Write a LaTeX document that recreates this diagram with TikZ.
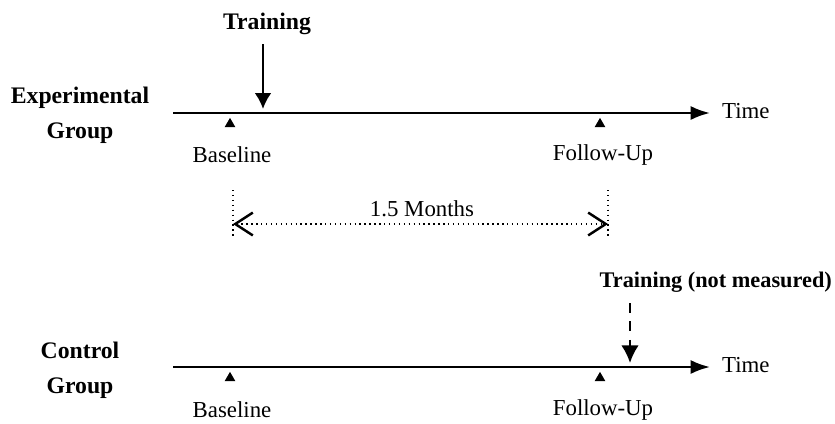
\documentclass[tikz,border=0pt]{standalone}
\usepackage{fontspec}
\setmainfont{Liberation Serif}
\usepackage{tikz}
\usetikzlibrary{arrows.meta,shapes.geometric,positioning}

\tikzset{
    lbl/.style={font=\fontsize{13}{15}\selectfont, inner sep=1pt},
    grp/.style={font=\fontsize{13.5}{20}\selectfont\bfseries, align=center, inner sep=1pt},
    axis/.style={line width=1.4pt, -{Latex[length=11pt,width=8pt]}},
    down/.style={line width=1.4pt, -{Latex[length=9pt,width=9.5pt]}},
    dimline/.style={dotted, thick},
    tri/.style={regular polygon, regular polygon sides=3, fill=black, inner sep=0pt, minimum size=7pt},
}

\begin{document}
\begin{tikzpicture}[x=0.02cm, y=-0.02cm]
        \useasboundingbox (0,0) rectangle (835,423);

        % experimental group
        \coordinate (e0) at (173,113);
        \coordinate (e1) at (710,113);
        \draw [axis] (e0) -- (e1);
        \node [lbl, anchor=west] (etime) at (720,111) {Time};
        \node [grp] (egrp) at (80,115) {Experimental\\Group};

        \node [grp] (etrain) at (267,24) {Training};
        \coordinate (etop) at (263,44);
        \coordinate (etip) at (263,109);
        \draw [down] (etop) -- (etip);

        \node [tri] (eb) at (230,124) {};
        \node [tri] (ef) at (600,124) {};
        \node [lbl] (ebase) at (232,155) {Baseline};
        \node [lbl] (efollow) at (603,155) {Follow-Up};

        % interval
        \coordinate (d0) at (233,224);
        \coordinate (d1) at (608,224);
        \draw [dimline] (233,190) -- (233,238);
        \draw [dimline] (608,190) -- (608,238);
        \draw [dimline, {Straight Barb[length=10pt,width=13pt,line width=1.4pt]}-{Straight Barb[length=10pt,width=13pt,line width=1.4pt]}] (d0) -- (d1);
        \node [lbl] (months) at (422,209) {1.5 Months};

        % control group
        \coordinate (c0) at (173,367);
        \coordinate (c1) at (710,367);
        \draw [axis] (c0) -- (c1);
        \node [lbl, anchor=west] (ctime) at (720,365) {Time};
        \node [grp] (cgrp) at (80,370) {Control\\Group};

        \node [grp, font=\fontsize{12.7}{15}\selectfont\bfseries, anchor=east] (ctrain) at (834,282) {Training (not measured)};
        \coordinate (ctop) at (630,303);
        \coordinate (ctip) at (630,363);
        \draw [down, -{Latex[length=10pt,width=10pt]}, dash pattern=on 5.5pt off 5pt] (ctop) -- (ctip);

        \node [tri] (cb) at (230,378) {};
        \node [tri] (cf) at (600,378) {};
        \node [lbl] (cbase) at (232,410) {Baseline};
        \node [lbl] (cfollow) at (603,410) {Follow-Up};
\end{tikzpicture}
\end{document}
